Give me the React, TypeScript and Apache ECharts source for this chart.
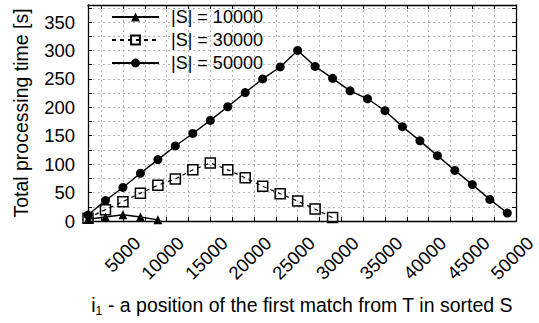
import React, { useEffect, useRef } from 'react';
import * as echarts from 'echarts';

// |S| = 10000
const xS10000 = [1000, 3000, 5000, 7000, 9000];
const yS10000 = [3, 7, 11, 7, 2];
// |S| = 30000
const xS30000 = [1000, 3000, 5000, 7000, 9000, 11000, 13000, 15000, 17000, 19000, 21000, 23000, 25000, 27000, 29000];
const yS30000 = [5, 20, 34, 49, 63, 74, 90, 102, 90, 76, 61, 48, 35, 21, 6];
// |S| = 50000
const xS50000 = [1000, 3000, 5000, 7000, 9000, 11000, 13000, 15000, 17000, 19000, 21000, 23000, 25000, 27000, 29000, 31000, 33000, 35000, 37000, 39000, 41000, 43000, 45000, 47000, 49000];
const yS50000 = [10.5, 36, 59, 84, 108, 132, 154, 177, 201, 226, 250, 271, 300, 272, 251, 229, 215, 194, 166, 141, 115, 89, 64, 38, 14];

const seriesNames = ['|S| = 10000', '|S| = 30000', '|S| = 50000'];
const xTickValues = [2500, 5000, 7500, 10000, 12500, 15000, 17500, 20000, 22500, 25000, 27500, 30000, 32500, 35000, 37500, 40000, 42500, 45000, 47500, 50000];
const xLabelValues = [5000, 10000, 15000, 20000, 25000, 30000, 35000, 40000, 45000, 50000];
const xMin = 1000;
const xMax = 50000;
const yMin = 0;
const yMax = 380;
const yTickStep = 25;
const yLabelStep = 50;

const xName = '{m|i}{s|1}{m| - a position of the first match from T in sorted S}';
const yName = 'Total processing time [s]';

const FONT = 'Liberation Sans, Arial, Helvetica, sans-serif';

function pairs(xs: number[], ys: number[]) {
  return xs.map((x, i) => [x, ys[i]]);
}

export default function App() {
  const ref = useRef<HTMLDivElement>(null);
  useEffect(() => {
    if (!ref.current) return;
    const chart = echarts.init(ref.current, undefined, { renderer: 'svg' });
    const gridLine = { show: true, lineStyle: { color: '#b5b5b5', width: 1, type: [2, 3] as any } };
    const border = { show: true, onZero: false, lineStyle: { color: '#000', width: 1.3 } };
    const tick = { show: true, inside: true, length: 4, lineStyle: { color: '#000', width: 1 } };
    chart.setOption({
      animation: false,
      backgroundColor: '#fff',
      textStyle: { fontFamily: FONT },
      grid: { left: 88, right: 15, top: 5, bottom: 102, containLabel: false },
      legend: {
        orient: 'vertical',
        left: 111,
        top: 7,
        padding: 0,
        itemWidth: 47,
        itemHeight: 11,
        itemGap: 3,
        textStyle: { fontSize: 18, color: '#000', fontFamily: FONT, lineHeight: 20, padding: [0, 0, 0, 7] },
        data: seriesNames,
      },
      xAxis: [
        {
          type: 'value',
          min: xMin,
          max: xMax,
          position: 'bottom',
          axisLine: border,
          axisTick: { ...tick, customValues: xTickValues },
          splitLine: gridLine,
          axisLabel: {
            customValues: xLabelValues,
            formatter: (v: number) => String(v),
            rotate: 45,
            fontSize: 18.5,
            lineHeight: 18,
            color: '#000',
            fontFamily: FONT,
            margin: 33,
            padding: [0, -20, 0, 0],
          },
          name: xName,
          nameLocation: 'middle',
          nameGap: 72,
          nameTextStyle: {
            color: '#000',
            fontFamily: FONT,
            fontSize: 19.5,
            rich: {
              m: { fontSize: 19.5, lineHeight: 24, color: '#000', fontFamily: FONT },
              s: { fontSize: 12, lineHeight: 8, verticalAlign: 'bottom', color: '#000', fontFamily: FONT },
            },
          },
        },
        {
          type: 'value',
          min: xMin,
          max: xMax,
          position: 'top',
          axisLine: border,
          axisTick: { ...tick, customValues: xTickValues },
          splitLine: { show: false },
          axisLabel: { show: false },
        },
      ],
      yAxis: [
        {
          type: 'value',
          min: yMin,
          max: yMax,
          interval: yTickStep,
          position: 'left',
          axisLine: border,
          axisTick: tick,
          splitLine: gridLine,
          axisLabel: {
            fontSize: 18.5,
            color: '#000',
            fontFamily: FONT,
            margin: 13,
            formatter: (v: number) => (v % yLabelStep === 0 ? String(v) : ''),
          },
          name: yName,
          nameLocation: 'middle',
          nameGap: 57,
          nameTextStyle: { fontSize: 19.5, color: '#000', fontFamily: FONT },
        },
        {
          type: 'value',
          min: yMin,
          max: yMax,
          interval: yTickStep,
          position: 'right',
          axisLine: border,
          axisTick: tick,
          splitLine: { show: false },
          axisLabel: { show: false },
        },
      ],
      series: [
        {
          name: seriesNames[0],
          type: 'line',
          data: pairs(xS10000, yS10000),
          symbol: 'triangle',
          symbolSize: 9,
          clip: false,
          lineStyle: { color: '#000', width: 1.4 },
          itemStyle: { color: '#000' },
          z: 3,
        },
        {
          name: seriesNames[1],
          type: 'line',
          data: pairs(xS30000, yS30000),
          symbol: 'rect',
          symbolSize: 10,
          clip: false,
          lineStyle: { color: '#000', width: 1.2, type: [4, 4] as any },
          itemStyle: { color: 'rgba(255,255,255,0)', borderColor: '#000', borderWidth: 1.5 },
          z: 4,
        },
        {
          name: seriesNames[2],
          type: 'line',
          data: pairs(xS50000, yS50000),
          symbol: 'circle',
          symbolSize: 9,
          clip: false,
          lineStyle: { color: '#000', width: 1.4 },
          itemStyle: { color: '#000' },
          z: 2,
        },
      ],
    });
    return () => chart.dispose();
  }, []);
  return <div ref={ref} style={{ position: 'fixed', left: 0, top: 0, width: 539, height: 323 }} />;
}
